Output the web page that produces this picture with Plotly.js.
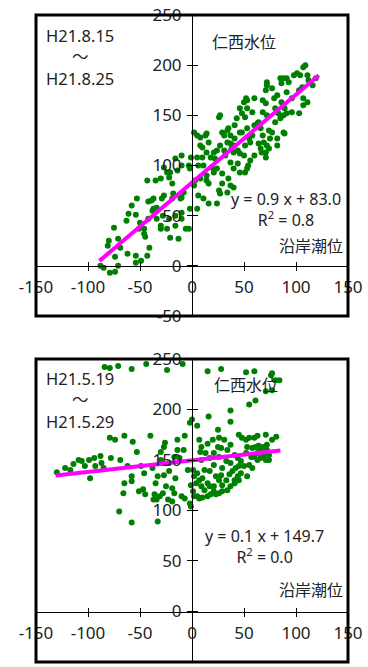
<!DOCTYPE html>
<html><head><meta charset="utf-8">
<script src="https://cdn.plot.ly/plotly-3.0.1.min.js"></script>
<style>html,body{margin:0;padding:0;background:#fff;}#c{width:368px;height:667px;}</style>
</head><body><div id="c"></div>
<script>
// ---- data: top panel (H21.8.15 - H21.8.25) ----
var augX = [-88,-85,-79,-74,-71,-74,-81,-80,-75,-71,-69,-62,-54,-54,-49,-43,-41,-61,-63,-53,-58,-54,-50,-51,-46,-46,-45,-42,-42,-43,-39,-37,-35,-30,-34,-34,-29,-28,-30,-30,-24,-22,-21,-13,-19,-19,-16,-10,-10,-14,-21,-18,-11,-10,-10,-6,-3,-16,-16,-8,-2,-2,-3,-1,-10,-27,-27,-24,-22,-37,-38,
2,5,8,13,14,8,10,16,14,18,10,5,6,11,8,14,16,21,21,22,24,29,31,27,26,34,35,34,37,38,40,32,37,40,44,40,44,46,50,51,55,56,58,48,51,53,50,46,43,41,46,60,52,53,58,60,63,64,66,68,68,71,72,72,77,68,71,72,74,69,72,64,66,71,74,67,71,79,82,80,83,80,85,85,88,91,86,93,91,86,89,88,91,88,89,82,82,77,75,98,101,104,107,109,111,116,106,103,107,111,107,103,96,96,119,112,51,46,37,40,35,29,27,26,16,11,6,5,24,34,56,60,53,54,29,24,19,14,27,31,37,41,48,53,2,3];
var augY = [0,-2,-7,-6,0,9,20,25,38,27,18,12,10,3,5,10,18,52,45,67,60,51,43,37,32,37,29,47,64,85,65,67,85,87,58,47,67,50,40,37,37,47,28,27,67,82,107,110,100,95,93,72,67,53,47,37,37,50,40,73,57,97,100,108,68,70,98,93,88,57,55,
133,130,128,130,132,120,118,123,113,108,108,108,100,100,87,90,82,93,113,107,115,133,130,150,148,135,137,123,122,117,120,110,103,97,102,113,115,112,110,120,127,123,130,152,148,157,163,157,147,140,133,167,167,165,153,140,142,143,137,130,153,175,180,183,177,165,162,150,135,123,120,122,117,113,117,113,108,167,170,157,152,143,147,187,187,187,182,183,173,163,157,150,152,133,132,127,120,133,127,190,192,190,198,200,190,180,178,175,167,163,160,152,167,153,187,185,93,93,80,78,87,82,72,75,62,67,70,57,62,73,105,110,97,100,92,97,98,85,120,115,130,127,133,137,80,85];
var augTrendX = [-89, 122];
var augSlope = 0.877, augIntercept = 83.0;

// ---- data: bottom panel (H21.5.19 - H21.5.29) ----
var mayX = [-84,-79,-71,-58,-44,-24,-9,15,28,52,60,76,77,80,84,71,77,61,55,37,37,16,0,-2,5,25,
-130,-122,-117,-114,-109,-106,-103,-98,-99,-94,-93,-88,-87,-85,-78,-79,-74,-69,-65,-57,-62,-58,-58,-65,-66,-53,-49,-46,-51,-47,-45,-40,-70,-58,-33,-38,-36,-35,-34,-37,-31,-28,-27,-27,-26,-30,-30,-25,-23,-19,-17,-14,-14,-12,-7,-8,-19,-22,-16,-10,-7,-1,-2,-1,-4,1,-33,-28,-22,-17,
7,9,8,15,20,26,31,25,34,37,9,12,10,17,21,26,29,33,37,41,44,45,48,52,55,60,63,71,81,53,58,61,64,66,63,69,72,74,77,47,50,55,58,63,66,69,71,74,57,52,47,53,44,41,37,34,29,26,23,18,15,10,7,5,12,17,21,26,28,23,33,36,39,42,45,9,4,2,15,21,29,41,45,60,64,68,72,28,21,17,13,5,7,1,2];
var mayY = [242,241,243,240,245,239,245,238,240,237,238,234,236,229,229,218,219,209,205,199,188,193,190,187,184,180,
138,142,140,146,150,149,144,132,150,152,144,154,147,142,152,172,170,150,174,168,144,134,129,127,117,158,144,137,119,121,116,174,99,88,89,142,116,127,111,111,114,117,135,163,167,158,150,124,111,122,117,170,160,152,174,160,109,139,132,114,112,125,107,104,140,140,134,147,147,153,
170,163,158,166,170,172,170,163,160,165,150,140,132,139,145,153,142,149,147,155,152,175,172,170,172,172,174,175,173,163,162,163,164,160,157,157,160,155,170,149,144,145,142,150,152,153,150,150,153,157,137,134,134,130,124,120,119,117,116,116,114,113,112,114,120,124,124,130,135,134,130,136,139,142,144,124,127,134,127,119,125,127,130,153,158,163,165,162,157,152,157,137,130,119,114];
var mayTrendX = [-131, 85];
var maySlope = 0.115, mayIntercept = 149.7;

var xTicks = [-150,-100,-50,0,50,100,150];
var yTicks = [-50,0,50,100,150,200,250];

function lineY(xs, a, b){ return xs.map(function(v){ return a*v + b; }); }

var topDom = [0.5348, 1], botDom = [0, 0.4683];
var XR = [-150,150], YR = [-50,250];
function zeroPos(dom){ return dom[0] + (0 - YR[0])/(YR[1]-YR[0])*(dom[1]-dom[0]); }
var xZeroPaper = (0 - XR[0])/(XR[1]-XR[0]);

var green = '#008000', mag = '#ff00ff', ink = '#222222';
var FONT = 'Noto Sans, Noto Sans CJK JP, sans-serif';

var traces = [
  {type:'scatter', mode:'markers', x:augX, y:augY, xaxis:'x', yaxis:'y', marker:{color:green, size:6}, hoverinfo:'skip'},
  {type:'scatter', mode:'lines', x:augTrendX, y:lineY(augTrendX, augSlope, augIntercept), xaxis:'x', yaxis:'y', line:{color:mag, width:4}, hoverinfo:'skip'},
  {type:'scatter', mode:'markers', x:mayX, y:mayY, xaxis:'x2', yaxis:'y2', marker:{color:green, size:6}, hoverinfo:'skip'},
  {type:'scatter', mode:'lines', x:mayTrendX, y:lineY(mayTrendX, maySlope, mayIntercept), xaxis:'x2', yaxis:'y2', line:{color:mag, width:4}, hoverinfo:'skip'},
  // axis carriers (no data)
  {type:'scatter', x:[], y:[], xaxis:'x3', yaxis:'y3'},
  {type:'scatter', x:[], y:[], xaxis:'x4', yaxis:'y4'},
  {type:'scatter', x:[], y:[], xaxis:'x5', yaxis:'y5'},
  {type:'scatter', x:[], y:[], xaxis:'x6', yaxis:'y6'}
];

var tickFont = {family:FONT, size:17, color:ink};
function baseX(anchor){ return {domain:[0,1], anchor:anchor, range:XR, visible:false, fixedrange:true}; }
function baseY(dom, anchor){ return {domain:dom, anchor:anchor, range:YR, visible:false, fixedrange:true}; }
function freeX(over, pos, labels){
  return {overlaying:over, anchor:'free', position:pos, range:XR, tickmode:'array', tickvals:xTicks,
    ticktext:xTicks.map(String), showticklabels:labels, ticks:labels?'outside':'inside', ticklen:4, tickwidth:1, tickcolor:'#000',
    showline:labels, linecolor:'#000', linewidth:1, showgrid:false, zeroline:false, tickfont:tickFont, ticklabelstandoff:2, fixedrange:true};
}
function freeY(over, labels){
  return {overlaying:over, anchor:'free', position:xZeroPaper, range:YR, tickmode:'array', tickvals:yTicks,
    ticktext:yTicks.map(String), showticklabels:labels, ticks:labels?'outside':'inside', ticklen:5, tickwidth:1, tickcolor:'#000',
    showline:labels, linecolor:'#000', linewidth:1, showgrid:false, zeroline:false, tickfont:tickFont, ticklabelstandoff:2, fixedrange:true};
}

function ann(text, x, y, xr, yr, size){
  return {text:text, x:x, y:y, xref:xr, yref:yr, showarrow:false, align:'center',
    font:{family:FONT, size:size||16, color:ink}, xanchor:'center', yanchor:'middle'};
}

var layout = {
  width:368, height:667, paper_bgcolor:'#fff', plot_bgcolor:'#fff', showlegend:false,
  margin:{l:36, r:20, t:15, b:5},
  xaxis: baseX('y'), yaxis: baseY(topDom, 'x'),
  xaxis2: baseX('y2'), yaxis2: baseY(botDom, 'x2'),
  xaxis3: freeX('x', zeroPos(topDom), true), yaxis3: freeY('y', true),
  xaxis4: freeX('x', zeroPos(topDom), false), yaxis4: freeY('y', false),
  xaxis5: freeX('x2', zeroPos(botDom), true), yaxis5: freeY('y2', true),
  xaxis6: freeX('x2', zeroPos(botDom), false), yaxis6: freeY('y2', false),
  shapes: [
    {type:'rect', xref:'x domain', yref:'y domain', x0:0, x1:1, y0:0, y1:1, line:{color:'#000', width:3}, layer:'above'},
    {type:'rect', xref:'x2 domain', yref:'y2 domain', x0:0, x1:1, y0:0, y1:1, line:{color:'#000', width:3}, layer:'above'}
  ],
  annotations: [
    ann('H21.8.15<br>～<br>H21.8.25', -108, 208, 'x', 'y', 16.5),
    ann('仁西水位', 50, 222.6, 'x', 'y'),
    ann('y = 0.9 x + 83.0<br>R<sup>2</sup> = 0.8', 90, 56, 'x', 'y'),
    ann('沿岸潮位', 114, 19.6, 'x', 'y'),
    ann('H21.5.19<br>～<br>H21.5.29', -108, 209, 'x2', 'y2', 16.5),
    ann('仁西水位', 52, 224.5, 'x2', 'y2'),
    ann('y = 0.1 x + 149.7<br>R<sup>2</sup> = 0.0', 70, 64, 'x2', 'y2'),
    ann('沿岸潮位', 114, 21.5, 'x2', 'y2')
  ]
};

Plotly.newPlot('c', traces, layout, {staticPlot:true, displayModeBar:false});
</script></body></html>
